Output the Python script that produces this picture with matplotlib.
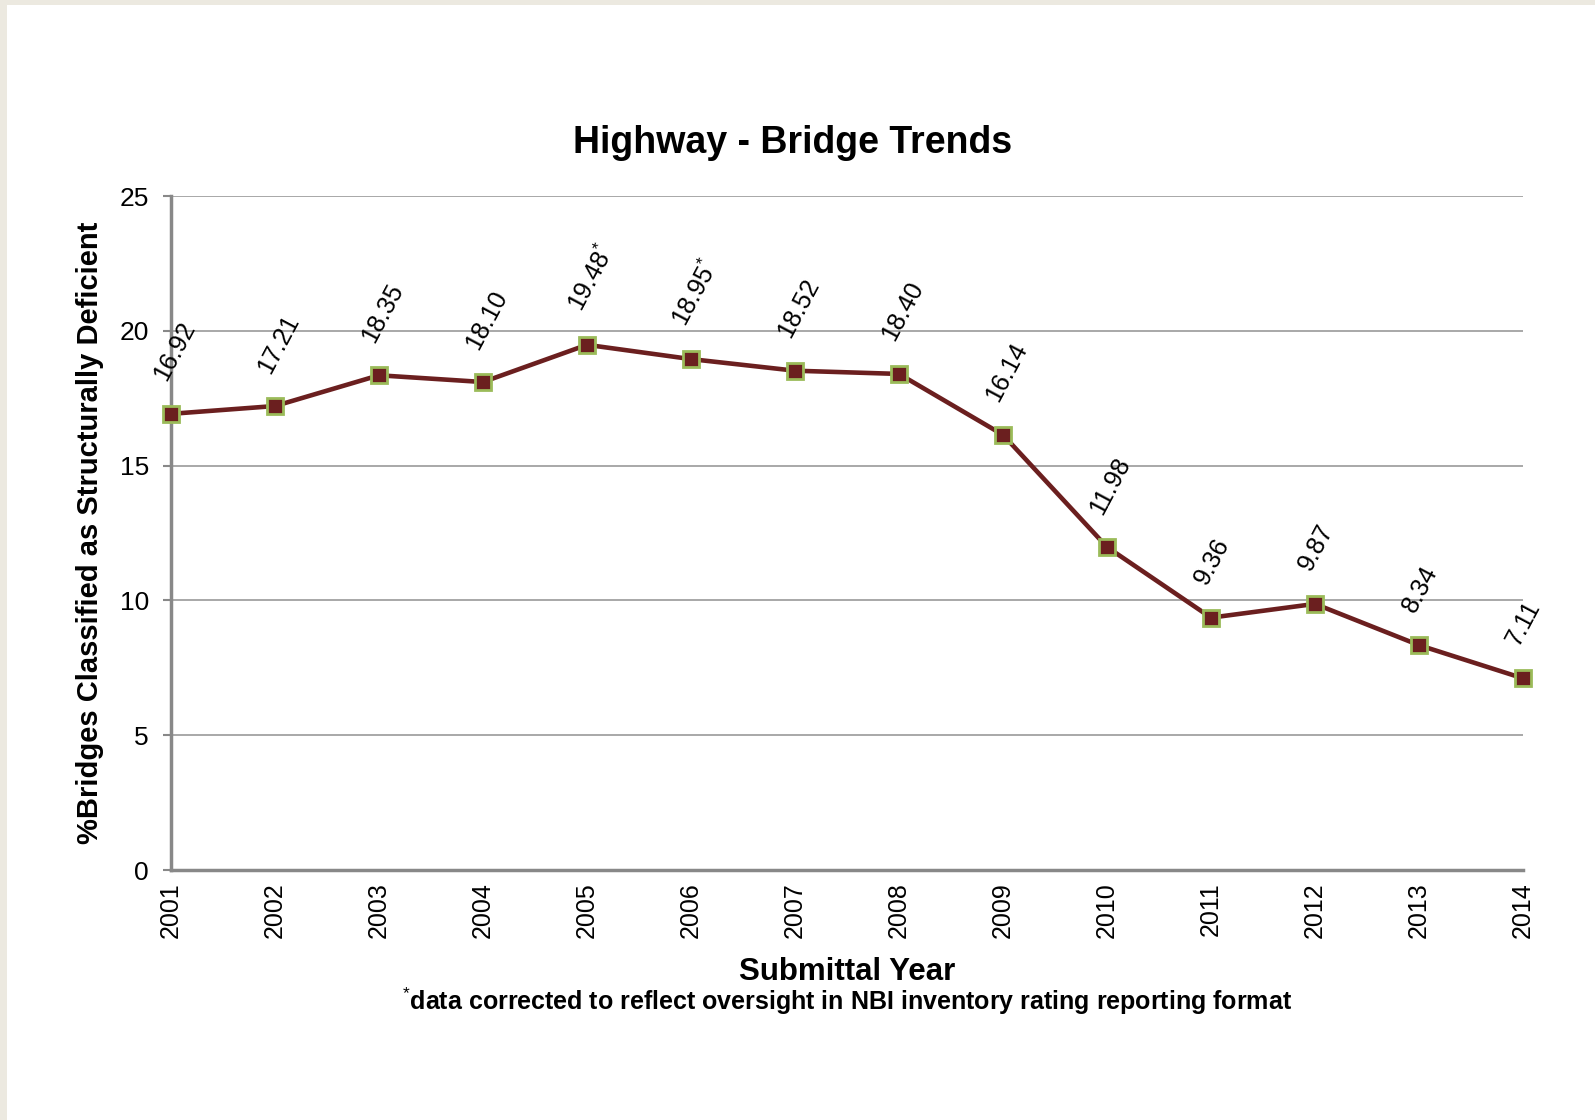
import matplotlib.pyplot as plt
import matplotlib.patches as mpatches

plt.rcParams['font.family'] = ['Liberation Sans', 'DejaVu Sans']
plt.rcParams['mathtext.fontset'] = 'custom'
plt.rcParams['mathtext.rm'] = 'Liberation Sans'
plt.rcParams['mathtext.bf'] = 'Liberation Sans:bold'

years = ['2001', '2002', '2003', '2004', '2005', '2006', '2007',
         '2008', '2009', '2010', '2011', '2012', '2013', '2014']
pct_deficient = [16.92, 17.21, 18.35, 18.10, 19.48, 18.95, 18.52,
                 18.40, 16.14, 11.98, 9.36, 9.87, 8.34, 7.11]
# years with corrected data get an asterisk
corrected = ['2005', '2006']
y_ticks = [0, 5, 10, 15, 20, 25]

fig = plt.figure(figsize=(15.95, 11.2), dpi=100)
fig.patch.set_facecolor('#ECE9E0')
# white page inside beige frame
fig.add_artist(mpatches.Rectangle((7 / 1595, 0), 1, 1 - 5 / 1120,
                                  transform=fig.transFigure, facecolor='white',
                                  edgecolor='none', zorder=0))

ax = fig.add_axes([171 / 1595, 1 - 870 / 1120, (1523 - 171) / 1595, (870 - 196) / 1120])
ax.set_facecolor('none')

x = list(range(len(years)))
ax.plot(x, pct_deficient, color='#6B1F1F', lw=3.3, marker='s', ms=12,
        mfc='#6B1F1F', mec='#9BBB59', mew=2, zorder=3, clip_on=False)

# data labels, rotated like the excel ones
for i, v in enumerate(pct_deficient):
    lab = f'{v:.2f}'
    if years[i] in corrected:
        lab = lab + r'$^{*}$'
    ax.annotate(lab, (i, v), xytext=(0, 21), textcoords='offset points',
                rotation=62, ha='left', va='bottom', fontsize=18,
                rotation_mode='anchor')

ax.set_xlim(0, len(years) - 1)
ax.set_ylim(0, 25)
ax.set_yticks(y_ticks)
ax.set_xticks(x)
ax.set_xticklabels(years, rotation=90, fontsize=18)
ax.tick_params(axis='y', labelsize=19, length=6, color='#888888', width=1.5, pad=10)
ax.tick_params(axis='x', length=0, pad=9)
ax.grid(axis='y', color='#9A9A9A', lw=1.2)
ax.set_axisbelow(True)
for s in ['top', 'right']:
    ax.spines[s].set_visible(False)
for s in ['left', 'bottom']:
    ax.spines[s].set_color('#888888')
    ax.spines[s].set_linewidth(2.5)

fig.text(793 / 1595, 1 - 143 / 1120, 'Highway - Bridge Trends', ha='center', va='center',
         fontsize=27, fontweight='bold')
fig.text(847 / 1595, 1 - 972 / 1120, 'Submittal Year', ha='center', va='center',
         fontsize=22.5, fontweight='bold')
fig.text(847 / 1595, 1 - 1001 / 1120,
         r'$^{*}$data corrected to reflect oversight in NBI inventory rating reporting format',
         ha='center', va='center', fontsize=18, fontweight='bold')
fig.text(90 / 1595, 1 - 533 / 1120, '%Bridges Classified as Structurally Deficient',
         ha='center', va='center', rotation=90, fontsize=21, fontweight='bold')

fig.savefig('out.png', dpi=100)
